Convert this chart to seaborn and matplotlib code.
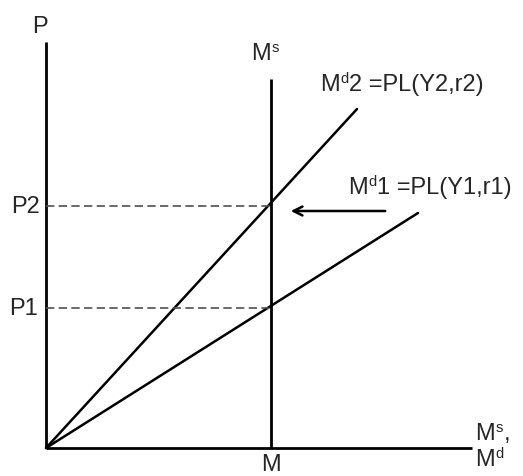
import matplotlib
matplotlib.use("Agg")
import matplotlib.pyplot as plt
import pandas as pd
import seaborn as sns

# values (units: px from the origin)
M = 225
P1 = 140
P2 = 242
X_END = 426
Y_END = 406
MS_TOP = 369
md2_x = [0, 311]
md2_y = [0, 339]
md1_x = [0, 372]
md1_y = [0, 235]
arrow_from = (342, 237)
arrow_to = (242, 237)

sns.set_theme(style="white")
plt.rcParams["font.family"] = ["Liberation Sans", "DejaVu Sans"]

FS = 17


def sup_label(ax, x, y, base, sup, rest="", ha="left", fs=FS):
    """Base text with a small raised letter, then the rest on the same baseline."""
    t = ax.text(x, y, base, fontsize=fs, ha=ha, va="center")
    s = ax.annotate(sup, xy=(1, 1), xycoords=t, xytext=(0.4, 1.5),
                    textcoords="offset points", fontsize=fs * 0.62,
                    ha="left", va="top")
    if rest:
        ax.annotate(rest, xy=(1, 0), xycoords=(s, t), xytext=(0.6, 0),
                    textcoords="offset points", fontsize=fs,
                    ha="left", va="bottom")
    return t


fig = plt.figure(figsize=(5.23, 4.77), dpi=100)
ax = fig.add_axes([0, 0, 1, 1])
ax.set_xlim(-46, 477)
ax.set_ylim(-28, 449)
ax.axis("off")

lw = 2.0
# axes
ax.plot([0, 0], [0, Y_END], color="black", lw=lw, solid_capstyle="butt")
ax.plot([0, X_END], [0, 0], color="black", lw=lw, solid_capstyle="butt")
# money supply
ax.plot([M, M], [0, MS_TOP], color="black", lw=lw, solid_capstyle="butt")

demand = pd.DataFrame({
    "x": md2_x + md1_x,
    "y": md2_y + md1_y,
    "curve": ["Md2"] * 2 + ["Md1"] * 2,
})
sns.lineplot(data=demand, x="x", y="y", units="curve", estimator=None,
             color="black", lw=1.8, sort=False, ax=ax)

# dashed guides
for p in (P1, P2):
    ax.plot([0, M], [p, p], color="#505050", lw=1.2, ls=(0, (5, 2.6)))

ax.annotate("", xy=arrow_to, xytext=arrow_from,
            arrowprops=dict(arrowstyle="->", color="black", lw=1.8,
                            mutation_scale=16))

ax.text(-6, 422, "P", fontsize=FS, ha="center", va="center")
sup_label(ax, 215, 395, "M", "s", ha="center")
sup_label(ax, 274, 364, "M", "d", "2 =PL(Y2,r2)")
sup_label(ax, 302, 261, "M", "d", "1 =PL(Y1,r1)")
ax.text(-6, P2, "P2", fontsize=FS, ha="right", va="center")
ax.text(-8, P1, "P1", fontsize=FS, ha="right", va="center")
ax.text(M, -27, "M", fontsize=FS, ha="center", va="bottom")
sup_label(ax, 429, 15, "M", "s", ",")
sup_label(ax, 429, -11, "M", "d")

fig.savefig("out.png", dpi=100, facecolor="white")
